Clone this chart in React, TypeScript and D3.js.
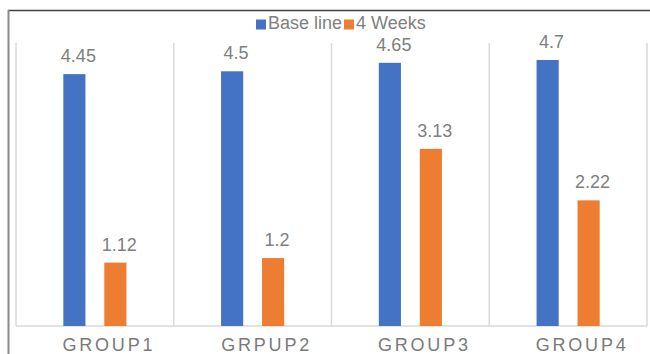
import { useEffect } from 'react'
import * as d3 from 'd3'

// chart data
const groups = ['GROUP1', 'GRPUP2', 'GROUP3', 'GROUP4']
const seriesNames = ['Base line', '4 Weeks']
const baseLine = [4.45, 4.5, 4.65, 4.7]
const fourWeeks = [1.12, 1.2, 3.13, 2.22]
const seriesColors = ['#4472C4', '#ED7D31']

const W = 650
const H = 354
const FONT = '"Liberation Sans", Arial, sans-serif'

export default function App() {
  useEffect(() => {
    document.body.style.margin = '0'
  }, [])

  const plot = { left: 16, right: 647, top: 43, bottom: 326 }

  const x0 = d3.scaleBand<string>()
    .domain(groups)
    .range([plot.left, plot.right])
    .padding(0)

  const x1 = d3.scaleBand<string>()
    .domain(seriesNames)
    .range([0, x0.bandwidth()])
    .paddingInner(0.46)
    .paddingOuter(1.155)

  const y = d3.scaleLinear().domain([0, 5]).range([plot.bottom, plot.top])

  const values = [baseLine, fourWeeks]

  // separators between groups (incl. both ends)
  const seps = groups.map(g => x0(g) as number).concat([plot.right])

  return (
    <svg width={W} height={H} style={{ display: 'block', background: '#fff' }} fontFamily={FONT}>
      {/* outer frame */}
      <line x1={8} x2={W} y1={10.5} y2={10.5} stroke="#404040" strokeWidth={1.5} />
      <line x1={8.5} x2={8.5} y1={10} y2={H} stroke="#8a8a8a" strokeWidth={2} />

      {/* legend */}
      <g transform="translate(256,0)">
        {seriesNames.map((s, i) => {
          const ox = i * 88
          return (
            <g key={s} transform={`translate(${ox},0)`}>
              <rect x={0} y={19.5} width={10} height={10} fill={seriesColors[i]} />
              <text x={12} y={29} fontSize={18} fill="#7f7f7f">{s}</text>
            </g>
          )
        })}
      </g>

      {/* grid */}
      {seps.map((sx, i) => (
        <line key={i} x1={sx} x2={sx} y1={plot.top} y2={plot.bottom} stroke="#d9d9d9" strokeWidth={1.5} />
      ))}
      <line x1={plot.left} x2={plot.right} y1={plot.bottom} y2={plot.bottom} stroke="#d9d9d9" strokeWidth={1.5} />

      {/* bars + labels */}
      {groups.map((g, gi) => (
        <g key={g} transform={`translate(${x0(g)},0)`}>
          {seriesNames.map((s, si) => {
            const v = values[si][gi]
            const bx = x1(s) as number
            return (
              <g key={s}>
                <rect
                  x={bx}
                  y={y(v)}
                  width={x1.bandwidth()}
                  height={plot.bottom - y(v)}
                  fill={seriesColors[si]}
                />
                <text
                  x={bx + x1.bandwidth() / 2 + 4}
                  y={y(v) - 12}
                  textAnchor="middle"
                  fontSize={18}
                  fill="#808080"
                >
                  {String(v)}
                </text>
              </g>
            )
          })}
        </g>
      ))}

      {/* x axis labels */}
      {groups.map(g => (
        <text
          key={g}
          x={(x0(g) as number) + x0.bandwidth() / 2 + 14}
          y={351}
          textAnchor="middle"
          fontSize={18}
          letterSpacing={2.8}
          fill="#7a7a7a"
        >
          {g}
        </text>
      ))}
    </svg>
  )
}
